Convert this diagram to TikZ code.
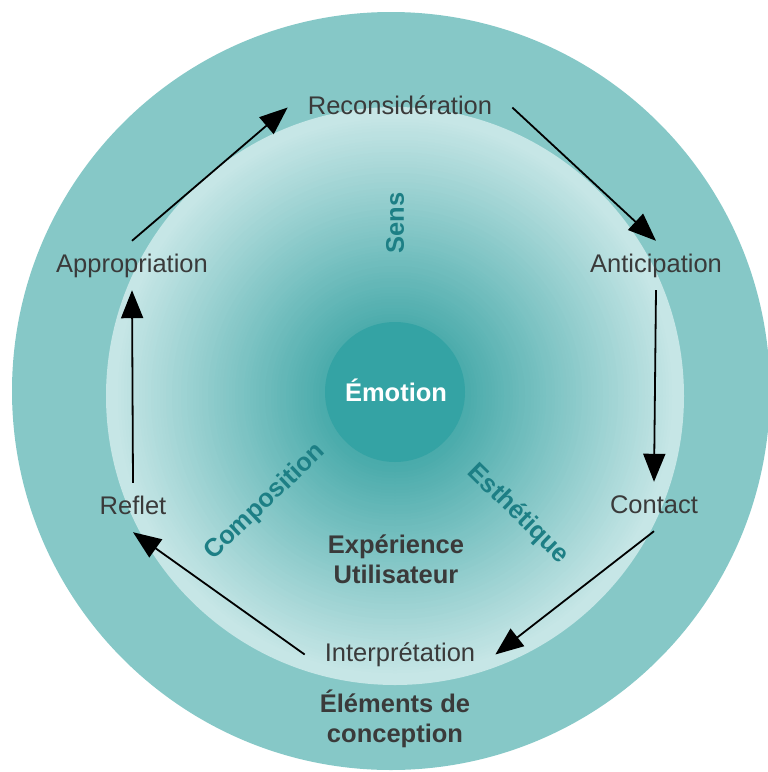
\documentclass[tikz,border=0pt]{standalone}
\usepackage{fontspec}
\setmainfont{Liberation Sans}
\usetikzlibrary{arrows.meta}
\definecolor{ring}{HTML}{86C8C7}
\definecolor{core}{HTML}{34A3A4}
\definecolor{gin}{HTML}{4AABAB}
\definecolor{gout}{HTML}{C6E6E6}
\definecolor{tealtxt}{HTML}{1D7F85}
\definecolor{txt}{HTML}{3A3A3A}
\begin{document}
\begin{tikzpicture}[x=1pt,y=-1pt,
  lab/.style={font=\fontsize{25.5}{30}\selectfont, text=txt, text height=18pt, text depth=5pt, inner xsep=20pt, inner ysep=13pt, anchor=base},
  boldlab/.style={font=\fontsize{25.5}{30}\selectfont\bfseries, text=txt, align=center},
  side/.style={font=\fontsize{25.5}{30}\selectfont\bfseries, text=tealtxt},
  arr/.style={-{Triangle[length=28pt,width=22pt]}, line width=1.8pt, draw=black}]
\useasboundingbox (0,0) rectangle (768,772);
\clip (0,0) rectangle (768,772);
\fill[ring] (391,391) circle[radius=379];
\fill[gout] (395,396) circle[radius=289];
\foreach \k in {0,...,70} {
  \pgfmathtruncatemacro\p{100-\k*100/70}
  \fill[gout!\p!gin] (395,396) circle[radius={280-\k*3}];
}
\fill[core] (395,392) circle[radius=70];

\node[lab] (reco) at (400,114) {Reconsidération};
\node[lab] (anti) at (656,272) {Anticipation};
\node[lab] (cont) at (654,513) {Contact};
\node[lab] (interp) at (400,661) {Interprétation};
\node[lab] (refl) at (133,514) {Reflet};
\node[lab] (appr) at (132,272) {Appropriation};

\node[font=\fontsize{25.5}{30}\selectfont\bfseries, text=white, anchor=base] (emo) at (396,401) {Émotion};
\node[boldlab] (exp) at (396,559) {Expérience\\Utilisateur};
\node[boldlab] (elem) at (395,719) {Éléments de\\conception};

\node[side, rotate=90] (sens) at (395,223) {Sens};
\node[side, rotate=43.5] (comp) at (265,502) {Composition};
\node[side, rotate=-44.4] (esth) at (518,514) {Esthétique};

\draw[arr] (appr.north) -- (reco.west);
\draw[arr] (reco.east) -- (anti.north);
\draw[arr] (anti.south) -- (cont.north);
\draw[arr] (cont.south) -- (interp.east);
\draw[arr] (interp.west) -- (refl.south);
\draw[arr] (refl.north) -- (appr.south);
\end{tikzpicture}
\end{document}
